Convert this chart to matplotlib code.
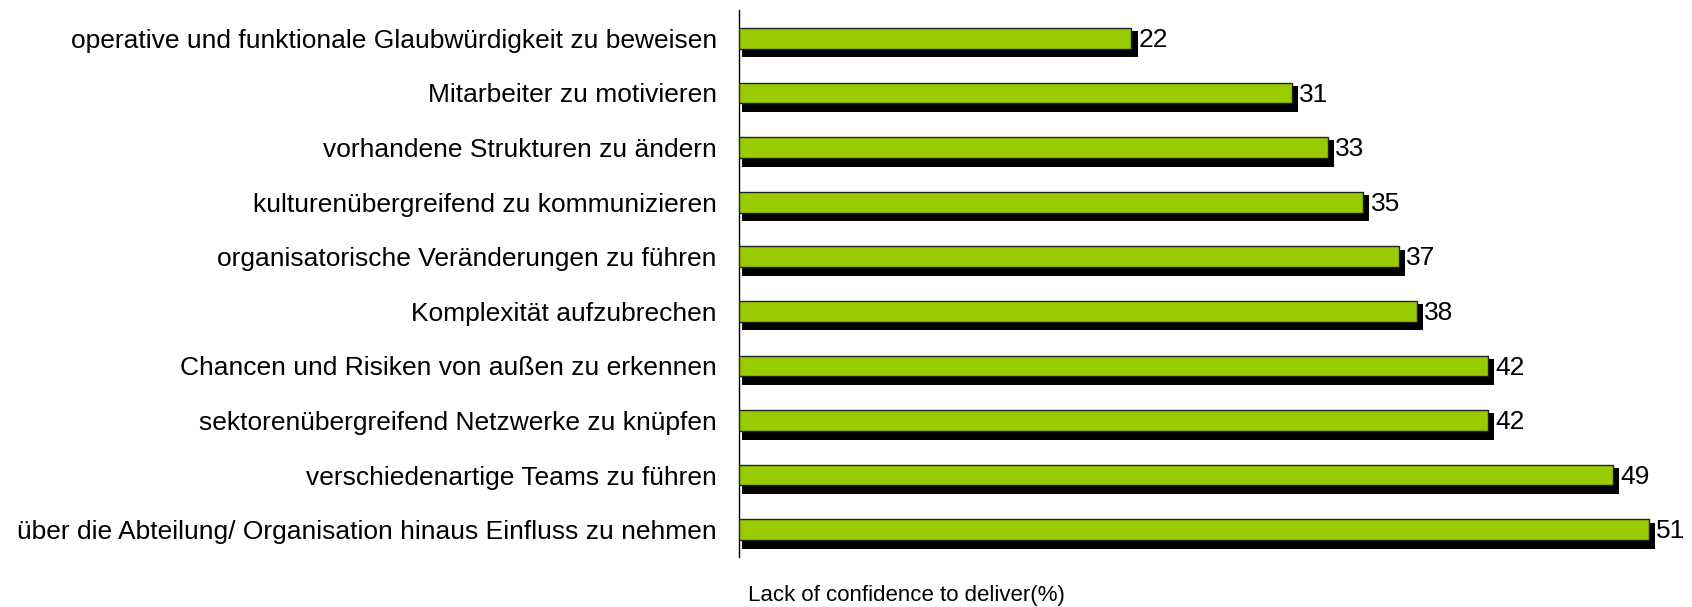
import matplotlib.pyplot as plt
from matplotlib import font_manager

# labels in the original are narrow and tall: use the narrow face if present
installed = {f.name for f in font_manager.fontManager.ttflist}
if 'Liberation Sans Narrow' in installed:
    label_font, label_size = 'Liberation Sans Narrow', 23
else:
    label_font, label_size = 'Liberation Sans', 19
plt.rcParams['font.family'] = [label_font, 'DejaVu Sans']

# ---- data ----
categories = [
    'operative und funktionale Glaubwürdigkeit zu beweisen',
    'Mitarbeiter zu motivieren',
    'vorhandene Strukturen zu ändern',
    'kulturenübergreifend zu kommunizieren',
    'organisatorische Veränderungen zu führen',
    'Komplexität aufzubrechen',
    'Chancen und Risiken von außen zu erkennen',
    'sektorenübergreifend Netzwerke zu knüpfen',
    'verschiedenartige Teams zu führen',
    'über die Abteilung/ Organisation hinaus Einfluss zu nehmen',
]
values = [22, 31, 33, 35, 37, 38, 42, 42, 49, 51]
xlabel = 'Lack of confidence to deliver(%)'

fig = plt.figure(figsize=(16.92, 6.07), dpi=100)
ax = fig.add_axes([739 / 1692, 1 - 557 / 607, 1 - 739 / 1692, (557 - 10) / 607])

y = list(range(len(categories)))
h = 0.38

# black drop shadow behind each bar
ax.barh([p + 0.11 for p in y], [v + 0.17 for v in values], height=h + 0.1,
        left=0.17, color='black', zorder=2)
ax.barh(y, values, height=h, color='#99cc00', edgecolor='#222222',
        linewidth=1.0, zorder=3)

for p, v in zip(y, values):
    ax.text(v + 0.4, p + 0.03, str(v), va='center', ha='left', fontsize=label_size)

ax.set_xlim(0, 953 / 17.84)
ax.set_ylim(len(categories) - 0.5, -0.52)
ax.set_yticks(y)
ax.set_yticklabels(categories, fontsize=label_size)
ax.tick_params(axis='y', length=0, pad=16)
ax.set_xticks([])
for s in ['top', 'right', 'bottom']:
    ax.spines[s].set_visible(False)
ax.spines['left'].set_linewidth(1.0)

fig.text(748 / 1692, 1 - 596 / 607, xlabel, fontsize=16,
         ha='left', va='center')

plt.savefig('out.png', dpi=100, facecolor='white')
plt.close()
